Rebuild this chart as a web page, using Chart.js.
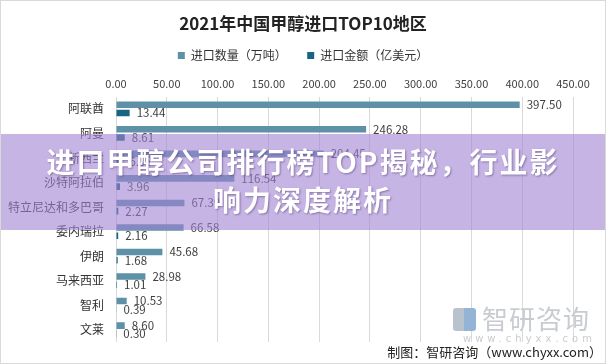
<!DOCTYPE html>
<html>
<head>
<meta charset="utf-8">
<script src="https://cdn.jsdelivr.net/npm/chart.js@4.4.0/dist/chart.umd.min.js"></script>
<style>
    html, body { margin: 0; padding: 0; background: #fff; }
    #wrap { position: relative; width: 606px; height: 364px; overflow: hidden; font-family: "Noto Sans CJK SC", sans-serif; }
    #frame { position: absolute; left: 0; top: 0; width: 604px; height: 362px; border: 1px solid #d9d9d9; pointer-events: none; }
    #banner { position: absolute; left: 0; top: 134px; width: 606px; height: 96px; background: rgba(160, 130, 210, 0.6); }
    #banner p { margin: 0; position: absolute; left: 40px; width: 526px; top: 8px; text-align: center; color: #fff; font-weight: bold; font-size: 28px; line-height: 38px; letter-spacing: 2px; text-shadow: 1px 1px 2px rgba(60, 40, 100, 0.45); }
    #logo { position: absolute; left: 453px; top: 302px; color: #c8ccd1; font-size: 26px; line-height: 32px; letter-spacing: 1px; white-space: nowrap; }
    #logo span.mark { display: inline-block; width: 23px; height: 23px; margin-right: 6px; vertical-align: -2px; background: linear-gradient(90deg, #b9c3cd 50%, #93b4d4 50%); border-radius: 3px; }
    #logo-url { position: absolute; left: 463px; top: 333px; color: #c8ccd1; font-size: 10px; letter-spacing: 4px; font-family: "DejaVu Sans", sans-serif; white-space: nowrap; }
    #source { position: absolute; right: 4px; top: 342px; color: #222; font-size: 13px; }
</style>
</head>
<body>
<div id="wrap">
    <canvas id="myChart" width="606" height="364"></canvas>
    <div id="logo"><span class="mark"></span>智研咨询</div>
    <div id="logo-url">www.chyxx.com</div>
    <div id="source">制图：智研咨询（www.chyxx.com）</div>
    <div id="banner"><p>进口甲醇公司排行榜TOP揭秘，行业影响力深度解析</p></div>
    <div id="frame"></div>
</div>
<script>
const categories = ['阿联酋', '阿曼', '新西兰', '沙特阿拉伯', '特立尼达和多巴哥', '委内瑞拉', '伊朗', '马来西亚', '智利', '文莱'];
const quantity = [397.50, 246.28, 204.45, 116.54, 67.39, 66.58, 45.68, 28.98, 10.53, 8.60];
const amount = [13.44, 8.61, 6.38, 3.96, 2.27, 2.16, 1.68, 1.01, 0.39, 0.30];
const seriesNames = ['进口数量（万吨）  ', '进口金额（亿美元）'];
const xTicks = [0, 50, 100, 150, 200, 250, 300, 350, 400, 450];

const FONT = '"Noto Sans CJK SC", sans-serif';

// value labels at the end of each bar
const valueLabels = {
    id: 'valueLabels',
    afterDatasetsDraw(chart) {
        const ctx = chart.ctx;
        ctx.save();
        ctx.font = '11.5px ' + FONT;
        ctx.fillStyle = '#404040';
        ctx.textAlign = 'left';
        ctx.textBaseline = 'middle';
        chart.data.datasets.forEach((ds, i) => {
            const meta = chart.getDatasetMeta(i);
            meta.data.forEach((bar, j) => {
                ctx.fillText(ds.data[j].toFixed(2), bar.x + 7, bar.y);
            });
        });
        ctx.restore();
    }
};

const ctx = document.getElementById('myChart');
const myChart = new Chart(ctx, {
    type: 'bar',
    data: {
        labels: categories,
        datasets: [{
            label: seriesNames[0],
            data: quantity,
            backgroundColor: '#5e91a7',
            categoryPercentage: 0.67,
            barPercentage: 0.8
        }, {
            label: seriesNames[1],
            data: amount,
            backgroundColor: '#176582',
            categoryPercentage: 0.67,
            barPercentage: 0.8
        }]
    },
    options: {
        indexAxis: 'y',
        responsive: false,
        animation: false,
        layout: { padding: { left: 0, right: 0, top: 0, bottom: 22 } },
        scales: {
            x: {
                position: 'top',
                min: 0,
                max: 450,
                afterBuildTicks: (scale) => { scale.ticks = xTicks.map(v => ({ value: v })); },
                ticks: {
                    color: '#404040',
                    font: { family: FONT, size: 11 },
                    padding: 6,
                    callback: (v) => Number(v).toFixed(2)
                },
                grid: { color: '#d9d9d9', drawTicks: false },
                border: { display: false }
            },
            y: {
                afterFit: (scale) => { scale.width = 116; },
                ticks: {
                    color: '#333',
                    font: { family: FONT, size: 12 },
                    padding: 12
                },
                grid: { display: false, drawTicks: false },
                border: { display: false }
            },
            // empty right-hand axis, only keeps the plot clear of the right edge
            yRight: {
                type: 'category',
                position: 'right',
                afterFit: (scale) => { scale.width = 33; },
                ticks: { display: false },
                grid: { display: false, drawTicks: false },
                border: { display: false }
            }
        },
        plugins: {
            title: {
                display: true,
                text: '2021年中国甲醇进口TOP10地区',
                color: '#222',
                font: { family: FONT, size: 17, weight: 'bold' },
                padding: { top: 13, bottom: 1 }
            },
            legend: {
                display: true,
                labels: {
                    boxWidth: 7,
                    boxHeight: 7,
                    padding: 15,
                    color: '#333',
                    font: { family: FONT, size: 12 }
                }
            },
            tooltip: { enabled: false }
        }
    },
    plugins: [valueLabels]
});
</script>
</body>
</html>
